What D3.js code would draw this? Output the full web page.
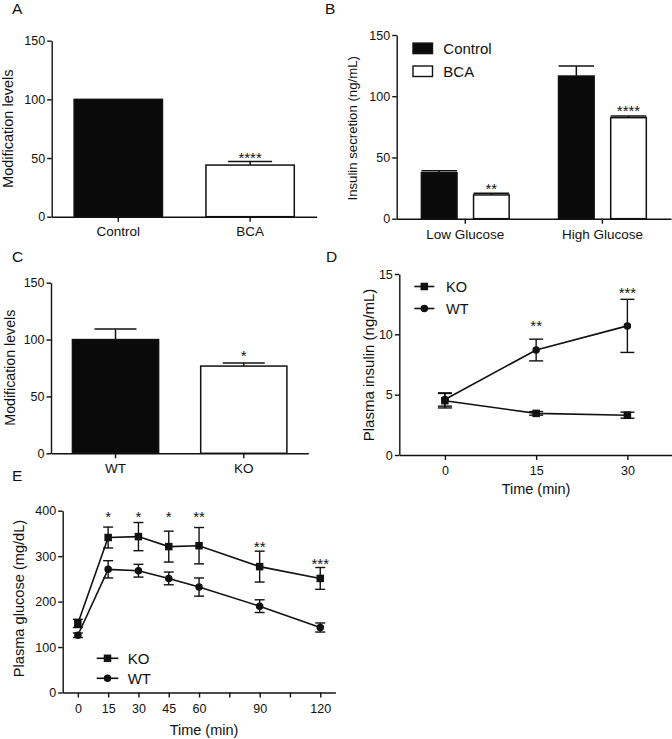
<!DOCTYPE html>
<html><head><meta charset="utf-8">
<script src="https://cdn.jsdelivr.net/npm/d3@7/dist/d3.min.js"></script>
<style>
html,body{margin:0;padding:0;background:#fff;}
svg text{font-family:"Liberation Sans",Arial,Helvetica,sans-serif;fill:#111;}
</style></head>
<body>
<svg id="chart" width="672" height="739"></svg>
<script>
// ---------- DATA ----------
// Panel A
const catA = ["Control", "BCA"];
const valA = [100, 44];
const errA = [0, 3];
const starA = ["", "****"];
const starYA = [null, 53.4];
// Panel B
const groupsB = ["Low Glucose", "High Glucose"];
const seriesB = ["Control", "BCA"];
const valBControl = [37.6, 116.5];
const errBControl = [1.6, 8.2];
const valBBCA = [19.4, 82.5];
const errBBCA = [1.3, 1.4];
const starBBCA = ["**", "****"];
const starYBBCA = [27.1, 90.8];
// Panel C
const catC = ["WT", "KO"];
const valC = [100, 76.7];
const errC = [9.2, 2.6];
const starC = ["", "*"];
const starYC = [null, 89];
// Panel D
const timeD = [0, 15, 30];
const koD = [4.5, 3.45, 3.3];
const koErrD = [0.6, 0.15, 0.25];
const wtD = [4.6, 8.7, 10.7];
const wtErrD = [0.55, 0.9, 2.2];
const starD = ["", "**", "***"];
const starYD = [null, 11, 13.7];
// Panel E
const timeE = [0, 15, 30, 45, 60, 90, 120];
const koE = [152, 341, 343, 321, 323, 277, 251];
const koErrE = [9, 23, 31, 34, 40, 34, 24];
const wtE = [126, 271, 268, 251, 232, 190, 143];
const wtErrE = [5, 19, 14, 14, 20, 14, 10];
const starE = ["", "*", "*", "*", "**", "**", "***"];
const starYE = [null, 394, 394, 394, 394, 329, 291];
const tickE = [0, 15, 30, 45, 60, 75, 90, 105, 120];
const tickLabelE = [0, 15, 30, 45, 60, 90, 120];

// ---------- HELPERS ----------
const svg = d3.select("#chart");
const SW = 1.4;
const TICKFS = "12.5px";
const CATFS = "13.5px";
const STARFS = 15;

function styleAxis(g, fs) {
  g.selectAll("path.domain").attr("stroke", "#111").attr("stroke-width", SW);
  g.selectAll(".tick line").attr("stroke", "#111").attr("stroke-width", SW);
  g.selectAll(".tick text").style("font-size", fs).attr("fill", "#111")
    .style("font-family", '"Liberation Sans",Arial,sans-serif');
}
function yAxis(y, x0, ticks, fmt) {
  const g = svg.append("g").attr("transform", `translate(${x0},0)`)
    .call(d3.axisLeft(y).tickValues(ticks).tickSize(4.5).tickSizeOuter(0).tickPadding(2)
      .tickFormat(fmt || d3.format("d")));
  styleAxis(g, TICKFS);
  return g;
}
function xAxis(x, y0, ticks, fmt, pad, fs) {
  let ax = d3.axisBottom(x).tickSize(5).tickSizeOuter(0).tickPadding(pad);
  if (ticks) ax = ax.tickValues(ticks);
  if (fmt) ax = ax.tickFormat(fmt);
  const g = svg.append("g").attr("transform", `translate(0,${y0})`).call(ax);
  styleAxis(g, fs);
  return g;
}
function yTitle(text, xBase, yc, fs) {
  svg.append("text").attr("transform", `translate(${xBase},${yc}) rotate(-90)`)
    .attr("text-anchor", "middle").style("font-size", fs).text(text);
}
function panelLetter(t, x, y) {
  svg.append("text").attr("x", x).attr("y", y).style("font-size", "15.5px").text(t);
}
function star(t, x, yPix) {
  if (!t) return;
  svg.append("text").attr("x", x).attr("y", yPix + STARFS * 0.58)
    .attr("text-anchor", "middle").style("font-size", STARFS + "px").text(t);
}
function bar(x, w, y, v, fill) {
  svg.append("rect").attr("x", x).attr("y", y(v)).attr("width", w)
    .attr("height", y(0) - y(v)).attr("fill", fill).attr("stroke", "#111")
    .attr("stroke-width", 1.5);
}
function upErr(cx, y, v, e, capW) {
  if (!e) return;
  svg.append("line").attr("x1", cx).attr("x2", cx).attr("y1", y(v)).attr("y2", y(v + e))
    .attr("stroke", "#111").attr("stroke-width", 1.5);
  svg.append("line").attr("x1", cx - capW / 2).attr("x2", cx + capW / 2)
    .attr("y1", y(v + e)).attr("y2", y(v + e)).attr("stroke", "#111").attr("stroke-width", 1.5);
}
function bothErr(cx, y, v, e, capW) {
  svg.append("line").attr("x1", cx).attr("x2", cx).attr("y1", y(v - e)).attr("y2", y(v + e))
    .attr("stroke", "#111").attr("stroke-width", 1.4);
  [v - e, v + e].forEach(t => svg.append("line").attr("x1", cx - capW / 2).attr("x2", cx + capW / 2)
    .attr("y1", y(t)).attr("y2", y(t)).attr("stroke", "#111").attr("stroke-width", 1.4));
}
function marker(type, cx, cy, size) {
  if (type === "square") {
    svg.append("rect").attr("x", cx - size / 2).attr("y", cy - size / 2)
      .attr("width", size).attr("height", size).attr("fill", "#111");
  } else {
    svg.append("circle").attr("cx", cx).attr("cy", cy).attr("r", size / 2).attr("fill", "#111");
  }
}
function series(x, y, times, vals, errs, type, capW) {
  const line = d3.line().x((d, i) => x(times[i])).y(d => y(d));
  svg.append("path").datum(vals).attr("d", line).attr("fill", "none")
    .attr("stroke", "#111").attr("stroke-width", 1.6);
  vals.forEach((v, i) => {
    bothErr(x(times[i]), y, v, errs[i], capW);
  });
  vals.forEach((v, i) => marker(type, x(times[i]), y(v), 7.5));
}
function lineLegend(x1, x2, yl, type, label, fs, tx) {
  svg.append("line").attr("x1", x1).attr("x2", x2).attr("y1", yl).attr("y2", yl)
    .attr("stroke", "#111").attr("stroke-width", 1.6);
  marker(type, (x1 + x2) / 2, yl, 7.5);
  svg.append("text").attr("x", tx).attr("y", yl + fs * 0.36).style("font-size", fs + "px").text(label);
}

// ---------- PANEL A ----------
{
  const x = d3.scaleBand().domain(catA).range([51.7, 316.7]).paddingInner(0.33).paddingOuter(0.17);
  const y = d3.scaleLinear().domain([0, 150]).range([216.7, 40.7]);
  catA.forEach((c, i) => {
    bar(x(c), x.bandwidth(), y, valA[i], i === 0 ? "#0a0a0a" : "#fff");
    upErr(x(c) + x.bandwidth() / 2, y, valA[i], errA[i], 44);
    if (starYA[i] != null) star(starA[i], x(c) + x.bandwidth() / 2, y(starYA[i]));
  });
  yAxis(y, 51.7, [0, 50, 100, 150]);
  xAxis(x, 216.7, null, null, 5, CATFS);
  yTitle("Modification levels", 13.3, 128.7, "14.5px");
  panelLetter("A", 12, 13.5);
}
// ---------- PANEL B ----------
{
  const x0 = d3.scaleBand().domain(groupsB).range([396.7, 671]).paddingInner(0.36).paddingOuter(0.18);
  const x1 = d3.scaleBand().domain(seriesB).range([0, x0.bandwidth()]).paddingInner(0.317);
  const y = d3.scaleLinear().domain([0, 150]).range([218.7, 35]);
  groupsB.forEach((g, i) => {
    const bx = x0(g) + x1("Control"), bw = x1.bandwidth();
    bar(bx, bw, y, valBControl[i], "#0a0a0a");
    upErr(bx + bw / 2, y, valBControl[i], errBControl[i], bw);
    const cx = x0(g) + x1("BCA");
    bar(cx, bw, y, valBBCA[i], "#fff");
    upErr(cx + bw / 2, y, valBBCA[i], errBBCA[i], bw);
    star(starBBCA[i], cx + bw / 2, y(starYBBCA[i]));
  });
  yAxis(y, 396.7, [0, 50, 100, 150]);
  xAxis(x0, 218.7, null, null, 6, CATFS);
  yTitle("Insulin secretion (ng/mL)", 357.2, 128.3, "13.2px");
  panelLetter("B", 325, 13.5);
  // legend
  const leg = [["Control", "#0a0a0a", 48.3], ["BCA", "#fff", 71.2]];
  leg.forEach(([t, f, yc]) => {
    svg.append("rect").attr("x", 413).attr("y", yc - 5.2).attr("width", 19.5).attr("height", 10.5)
      .attr("fill", f).attr("stroke", "#111").attr("stroke-width", 1.4);
    svg.append("text").attr("x", 443.3).attr("y", yc + 5.3).style("font-size", "15px").text(t);
  });
}
// ---------- PANEL C ----------
{
  const x = d3.scaleBand().domain(catC).range([51, 308.3]).paddingInner(0.328).paddingOuter(0.167);
  const y = d3.scaleLinear().domain([0, 150]).range([453.3, 282.7]);
  catC.forEach((c, i) => {
    bar(x(c), x.bandwidth(), y, valC[i], i === 0 ? "#0a0a0a" : "#fff");
    upErr(x(c) + x.bandwidth() / 2, y, valC[i], errC[i], 42);
    if (starYC[i] != null) star(starC[i], x(c) + x.bandwidth() / 2, y(starYC[i]));
  });
  yAxis(y, 51, [0, 50, 100, 150]);
  xAxis(x, 453.3, null, null, 5, CATFS);
  yTitle("Modification levels", 15, 367.7, "14.2px");
  panelLetter("C", 12, 262);
}
// ---------- PANEL D ----------
{
  const x = d3.scaleLinear().domain([-7.5, 37.5]).range([399.3, 673]);
  const y = d3.scaleLinear().domain([0, 15]).range([455, 274]);
  series(x, y, timeD, wtD, wtErrD, "circle", 14);
  series(x, y, timeD, koD, koErrD, "square", 14);
  timeD.forEach((t, i) => { if (starYD[i] != null) star(starD[i], x(t), y(starYD[i])); });
  yAxis(y, 399.3, [0, 5, 10, 15]);
  xAxis(x, 455, timeD, d3.format("d"), 6.5, TICKFS);
  yTitle("Plasma insulin (ng/mL)", 373.8, 365, "15px");
  svg.append("text").attr("x", 536).attr("y", 493.5).attr("text-anchor", "middle")
    .style("font-size", "14.5px").text("Time (min)");
  panelLetter("D", 326, 262);
  lineLegend(414.3, 434.3, 286.5, "square", "KO", 14.5, 446);
  lineLegend(414.3, 434.3, 308.5, "circle", "WT", 14.5, 446);
}
// ---------- PANEL E ----------
{
  const x = d3.scaleLinear().domain([-7.5, 127.5]).range([62.7, 335.4]);
  const y = d3.scaleLinear().domain([0, 400]).range([692.5, 510.7]);
  series(x, y, timeE, wtE, wtErrE, "circle", 10);
  series(x, y, timeE, koE, koErrE, "square", 10);
  timeE.forEach((t, i) => { if (starYE[i] != null) star(starE[i], x(t), y(starYE[i])); });
  yAxis(y, 62.7, [0, 100, 200, 300, 400]);
  xAxis(x, 692.5, tickE, d => tickLabelE.includes(d) ? d : "", 7, TICKFS);
  yTitle("Plasma glucose (mg/dL)", 24, 598.5, "14.6px");
  svg.append("text").attr("x", 204).attr("y", 735).attr("text-anchor", "middle")
    .style("font-size", "14.5px").text("Time (min)");
  panelLetter("E", 12, 481);
  lineLegend(96.7, 118.3, 658.3, "square", "KO", 15, 127.7);
  lineLegend(96.7, 118.3, 678.3, "circle", "WT", 15, 127.7);
}
</script>
</body></html>
